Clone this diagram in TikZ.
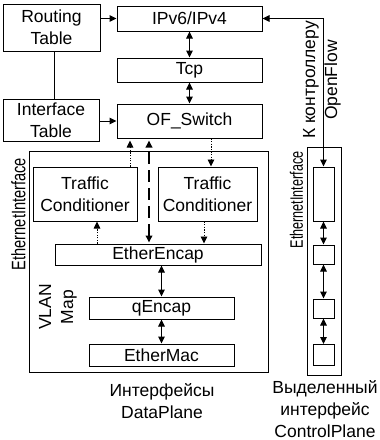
\documentclass[tikz,border=0pt]{standalone}
\usepackage{fontspec}
\setmainfont{Liberation Sans}
\usetikzlibrary{arrows.meta,calc}
\begin{document}
\begin{tikzpicture}[x=1pt,y=-1pt,
  font=\fontsize{17.5}{22}\selectfont,
  box/.style={draw,line width=1pt,inner sep=0pt,align=center},
  frame/.style={draw,line width=1pt},
  tip/.style={-{Triangle[length=7pt,width=6.5pt]}},
  dtip/.style={{Triangle[length=7pt,width=6.5pt]}-{Triangle[length=7pt,width=6.5pt]}},
  dotline/.style={line width=0.9pt,dash pattern=on 1.2pt off 1.4pt},
  dashline/.style={line width=1.8pt,dash pattern=on 12pt off 6pt},
  lbl/.style={inner sep=0pt,align=center}]
\useasboundingbox (0,0) rectangle (380,440);
\fill[white] (0,0) rectangle (380,440);

% outer frames
\draw[frame] (29,151) rectangle (268,372);
\draw[frame] (307,147) rectangle (341,375);

% upper stack
\node[box,minimum width=97pt,minimum height=47pt] (rt) at (51.5,27.5) {Routing\\Table};
\node[box,minimum width=96pt,minimum height=42pt] (it) at (51,120) {Interface\\Table};
\node[box,minimum width=145pt,minimum height=25pt] (ip) at (189.5,18.5) {IPv6/IPv4};
\node[box,minimum width=145pt,minimum height=24pt] (tcp) at (189.5,70) {Tcp};
\node[box,minimum width=145pt,minimum height=34pt] (ofs) at (189.5,121) {OF\_Switch};

% data plane interface
\node[box,minimum width=104pt,minimum height=54pt] (tcl) at (85,194) {Traffic\\Conditioner};
\node[box,minimum width=99pt,minimum height=54pt] (tcr) at (207.5,194) {Traffic\\Conditioner};
\node[box,minimum width=206pt,minimum height=21pt] (ee) at (158,254.5) {EtherEncap};
\node[box,minimum width=145pt,minimum height=22pt] (qe) at (161.5,308) {qEncap};
\node[box,minimum width=145pt,minimum height=22pt] (em) at (161.5,355) {EtherMac};

% control plane interface
\node[box,minimum width=21pt,minimum height=54pt] (c1) at (323.5,194) {};
\node[box,minimum width=21pt,minimum height=19pt] (c2) at (323.5,254.5) {};
\node[box,minimum width=21pt,minimum height=19pt] (c3) at (323.5,308.5) {};
\node[box,minimum width=21pt,minimum height=21pt] (c4) at (323.5,355) {};

% connectors of the upper stack
\draw[line width=1pt] ([xshift=2.5pt]rt.south) -- ([xshift=2.5pt]rt.south |- it.north);
\draw[line width=1pt,tip] (ip.west -| rt.east) -- (ip.west);
\draw[line width=1pt,tip] (ofs.west -| it.east) -- (ofs.west);
\draw[line width=1pt,dtip] (ip.south) -- (tcp.north);
\draw[line width=1pt,dtip] (tcp.south) -- (ofs.north);

% connectors inside the data plane
\draw[dotline,tip,shorten >=2pt] ([xshift=45pt]tcl.north) -- ([xshift=45pt]tcl.north |- ofs.south);
\draw[dashline,dtip,shorten <=1pt,shorten >=2pt] ([xshift=-9pt]ee.north) -- ([xshift=-9pt]ee.north |- ofs.south);
\draw[dotline,tip] ([xshift=3.5pt]tcr.north |- ofs.south) -- ([xshift=3.5pt]tcr.north);
\draw[dotline,tip] ([xshift=12pt]tcl.south |- ee.north) -- ([xshift=12pt]tcl.south);
\draw[dotline,tip] ([xshift=-3.5pt]tcr.south) -- ([xshift=-3.5pt]tcr.south |- ee.north);
\draw[line width=1pt,dtip] (ee.south -| qe.north) -- (qe.north);
\draw[line width=1pt,dtip] (qe.south) -- (em.north);

% connectors of the control plane
\draw[line width=1pt,dtip] (ip.east) -- (ip.east -| c1.north) -- (c1.north);
\draw[line width=1pt,dtip] (c1.south) -- (c2.north);
\draw[line width=1pt,dtip] (c2.south) -- (c3.north);
\draw[line width=1pt,dtip] (c3.south) -- (c4.north);

% labels
\node[lbl,rotate=90,font=\fontsize{19.5}{22}\selectfont] (lei) at (18.5,214) {\scalebox{0.75}[1]{EthernetInterface}};
\node[lbl,rotate=90] (lvl) at (58,307) {VLAN\\Map};
\node[lbl,rotate=90,font=\fontsize{18}{22}\selectfont] (rei) at (296.5,200) {\scalebox{0.70}[1]{EthernetInterface}};
\node[lbl,rotate=90] (lof) at (322,80) {К контроллеру\\OpenFlow};
\node[lbl] (ldp) at (162,401) {Интерфейсы\\DataPlane};
\node[lbl] (lcp) at (325,409) {Выделенный\\интерфейс\\ControlPlane};
\end{tikzpicture}
\end{document}
